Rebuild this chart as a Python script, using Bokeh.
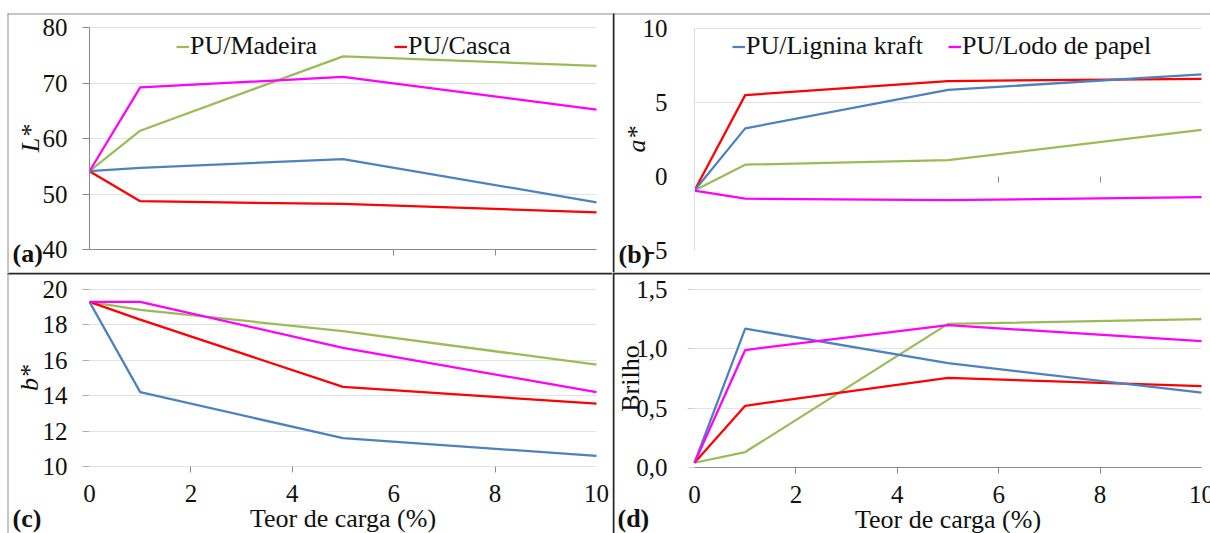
from bokeh.plotting import figure
from bokeh.models import (Range1d, FixedTicker, LinearAxis, Grid, Legend, ColumnDataSource,
                          LegendItem, Label, BoxAnnotation, CustomJSTickFormatter)
from bokeh.core.properties import value
from bokeh.layouts import column, row
from bokeh.embed import file_html
from bokeh.resources import INLINE

# Filler content (%)
carga = [0, 1, 5, 10]

series = ["PU/Madeira", "PU/Casca", "PU/Lignina kraft", "PU/Lodo de papel"]
colors = ["#9BBB59", "#FF0000", "#4F81BD", "#FF00FF"]

# L* (lightness)
L_madeira = [54.1, 61.4, 74.8, 73.1]
L_casca = [54.1, 48.7, 48.2, 46.7]
L_lignina = [54.1, 54.7, 56.3, 48.5]
L_lodo = [54.1, 69.2, 71.1, 65.2]

# a* (red/green)
a_madeira = [-0.95, 0.8, 1.1, 3.15]
a_casca = [-0.95, 5.5, 6.45, 6.6]
a_lignina = [-0.95, 3.25, 5.85, 6.9]
a_lodo = [-0.95, -1.5, -1.6, -1.4]

# b* (yellow/blue)
b_madeira = [19.3, 18.85, 17.65, 15.75]
b_casca = [19.3, 18.3, 14.5, 13.55]
b_lignina = [19.3, 14.2, 11.6, 10.6]
b_lodo = [19.3, 19.3, 16.7, 14.2]

# Gloss
brilho_madeira = [0.04, 0.13, 1.21, 1.25]
brilho_casca = [0.04, 0.52, 0.755, 0.685]
brilho_lignina = [0.04, 1.17, 0.88, 0.63]
brilho_lodo = [0.04, 0.99, 1.20, 1.065]

x_ticks = [0, 2, 4, 6, 8, 10]
x_tick_labels = ["0", "2", "4", "6", "8", "10"]
L_ticks = [40, 50, 60, 70, 80]
L_tick_labels = ["40", "50", "60", "70", "80"]
a_ticks = [-5, 0, 5, 10]
a_tick_labels = ["-5", "0", "5", "10"]
b_ticks = [10, 12, 14, 16, 18, 20]
b_tick_labels = ["10", "12", "14", "16", "18", "20"]
brilho_ticks = [0.0, 0.5, 1.0, 1.5]
brilho_tick_labels = ["0,0", "0,5", "1,0", "1,5"]

FONT = "Liberation Serif"
TICK_PX = "25px"
LABEL_PX = "26px"
GRID = "#e3e3e3"
AXIS_GREY = "#8a8a8a"
BORDER_GREY = "#8c8c8c"
DIVIDER = "#262626"
INK = "#111111"
TICK_OUT = 7


def blank(values):
    return CustomJSTickFormatter(args=dict(tick_values=values), code="return '';")


def panel(w, h, box, xr, yr):
    """Figure whose plotting frame fills the whole canvas; `box` gives the
    pixel rectangle (left, top, right, bottom) where xr x yr is drawn."""
    l, t, r, b = box
    sx = (r - l) / (xr[1] - xr[0])
    sy = (b - t) / (yr[1] - yr[0])
    x_range = Range1d(xr[0] - l / sx, xr[1] + (w - r) / sx)
    y_range = Range1d(yr[0] - (h - b) / sy, yr[1] + t / sy)
    p = figure(width=w, height=h, x_range=x_range, y_range=y_range,
               x_axis_type=None, y_axis_type=None,
               min_border=0, min_border_left=0, min_border_right=0,
               min_border_top=0, min_border_bottom=0,
               output_backend="svg", toolbar_location=None)
    p.outline_line_color = None
    p.background_fill_color = "white"
    p.border_fill_color = "white"
    return p


def y_axis(p, xr, yr, ticks, labels, line_color, tick_color, standoff,
           label, italic, title_offset):
    # tick marks and axis line
    p.add_layout(LinearAxis(ticker=FixedTicker(ticks=ticks), fixed_location=xr[0],
                            bounds=yr, formatter=blank(ticks),
                            axis_line_color=line_color,
                            major_tick_line_color=tick_color,
                            major_tick_in=0, major_tick_out=TICK_OUT,
                            minor_tick_line_color=None,
                            major_label_text_font_size="1px",
                            major_label_standoff=0), "left")
    # axis title
    p.add_layout(LinearAxis(ticker=FixedTicker(ticks=[]), fixed_location=xr[0],
                            bounds=yr, axis_line_color=None,
                            major_tick_line_color=None, major_tick_out=0,
                            major_tick_in=0, minor_tick_line_color=None,
                            axis_label=label,
                            axis_label_text_font=FONT,
                            axis_label_text_font_size=LABEL_PX,
                            axis_label_text_font_style="italic" if italic else "normal",
                            axis_label_text_color=INK,
                            axis_label_standoff=title_offset), "left")
    # tick labels
    src = ColumnDataSource(dict(x=[xr[0]] * len(ticks), y=ticks, t=labels))
    p.text(x="x", y="y", text="t", source=src, text_font=value(FONT),
           text_font_size=TICK_PX, text_color=INK, text_align="right",
           text_baseline="middle", x_offset=-(TICK_OUT + standoff))


def grid(p, xr, ticks):
    p.add_layout(Grid(dimension=1, ticker=FixedTicker(ticks=ticks), cross_bounds=xr,
                      grid_line_color=GRID, grid_line_width=1))


def tick_marks(p, xr, ticks, loc, line_color):
    p.add_layout(LinearAxis(ticker=FixedTicker(ticks=ticks), fixed_location=loc,
                            bounds=xr, formatter=blank(ticks),
                            axis_line_color=line_color,
                            major_tick_line_color=AXIS_GREY,
                            major_tick_in=0, major_tick_out=6,
                            minor_tick_line_color=None,
                            major_label_text_font_size="1px",
                            major_label_standoff=0), "below")


def x_labels(p, xr, yr):
    p.add_layout(LinearAxis(ticker=FixedTicker(ticks=[]), fixed_location=yr[0],
                            bounds=xr, axis_line_color=None,
                            major_tick_line_color=None, major_tick_out=0,
                            major_tick_in=0, minor_tick_line_color=None,
                            axis_label="Teor de carga (%)",
                            axis_label_text_font=FONT,
                            axis_label_text_font_size=LABEL_PX,
                            axis_label_text_font_style="normal",
                            axis_label_text_color=INK,
                            axis_label_standoff=37), "below")
    src = ColumnDataSource(dict(x=x_ticks, y=[yr[0]] * len(x_ticks), t=x_tick_labels))
    p.text(x="x", y="y", text="t", source=src, text_font=value(FONT),
           text_font_size=TICK_PX, text_color=INK, text_align="center",
           text_baseline="top", y_offset=TICK_OUT + 11)


def draw(p, values):
    return [p.line(carga, v, line_color=c, line_width=2.25)
            for v, c in zip(values, colors)]


def legend(p, renderers, names, loc, spacing):
    lg = Legend(items=[LegendItem(label=n, renderers=[r]) for n, r in zip(names, renderers)],
                location=loc, orientation="horizontal", spacing=spacing,
                padding=0, margin=0, glyph_width=13, glyph_height=29,
                label_standoff=1, label_height=29,
                label_text_font=FONT, label_text_font_size=LABEL_PX,
                label_text_color=INK,
                background_fill_alpha=0, border_line_color=None)
    p.add_layout(lg, "center")


def rule(p, left, right, top, bottom, color):
    p.add_layout(BoxAnnotation(left=left, right=right, top=top, bottom=bottom,
                               left_units="canvas", right_units="canvas",
                               top_units="canvas", bottom_units="canvas",
                               fill_color=color, fill_alpha=1.0,
                               line_color=None))


def tag(p, text, x, y):
    p.add_layout(Label(x=x, y=y, x_units="canvas", y_units="canvas", text=text,
                       text_font=FONT, text_font_size=LABEL_PX,
                       text_font_style="bold", text_color=INK,
                       text_baseline="alphabetic", text_align="left"))


XR = (0, 10)

# (a) L*
ya = (40, 80)
pa = panel(612, 272, (89, 27, 596, 249), XR, ya)
grid(pa, XR, [50, 60, 70, 80])
y_axis(pa, XR, ya, L_ticks, L_tick_labels, AXIS_GREY, AXIS_GREY, 15, "L*", True, 45)
tick_marks(pa, XR, [6, 8], ya[0], AXIS_GREY)
ra = draw(pa, [L_madeira, L_casca, L_lignina, L_lodo])
legend(pa, ra[:2], series[:2], (176, 211), 77)
rule(pa, 7, 612, 13, 14, BORDER_GREY)
rule(pa, 7, 8, 13, 272, BORDER_GREY)
tag(pa, "(a)", 12, 253)

# (b) a*
yb = (-5, 10)
pb = panel(598, 272, (82, 28, 589, 250), XR, yb)
grid(pb, XR, [5, 10])
y_axis(pb, XR, yb, a_ticks, a_tick_labels, "#dcdcdc", None, 20, "a*", True, 44)
tick_marks(pb, XR, [6, 8], 0, None)
rb = draw(pb, [a_madeira, a_casca, a_lignina, a_lodo])
legend(pb, rb[2:], series[2:], (120, 211), 25)
rule(pb, 0, 598, 13, 14, BORDER_GREY)
rule(pb, 0, 2, 13, 272, DIVIDER)
tag(pb, "(b)", 6, 254)

# (c) b*
yc = (10, 20)
pc = panel(612, 261, (89, 17, 596, 194), XR, yc)
grid(pc, XR, b_ticks)
y_axis(pc, XR, yc, b_ticks, b_tick_labels, None, "#b0b0b0", 15, "b*", True, 46)
tick_marks(pc, XR, [2, 4, 8], yc[0], None)
x_labels(pc, XR, yc)
draw(pc, [b_madeira, b_casca, b_lignina, b_lodo])
rule(pc, 7, 612, 0, 2, DIVIDER)
rule(pc, 7, 8, 0, 261, BORDER_GREY)
tag(pc, "(c)", 12, 246)

# (d) Brilho
yd = (0, 1.5)
pd_ = panel(598, 261, (82, 17, 589, 195), XR, yd)
grid(pd_, XR, [0.5, 1.0, 1.5])
y_axis(pd_, XR, yd, brilho_ticks, brilho_tick_labels, None, "#d0d0d0", 20, "Brilho",
       False, 50)
tick_marks(pd_, XR, [2, 4, 6, 8], yd[0], AXIS_GREY)
x_labels(pd_, XR, yd)
draw(pd_, [brilho_madeira, brilho_casca, brilho_lignina, brilho_lodo])
rule(pd_, 0, 598, 0, 2, DIVIDER)
rule(pd_, 0, 2, 0, 261, DIVIDER)
tag(pd_, "(d)", 5, 246)

layout = column(row(pa, pb), row(pc, pd_))

open("out.html", "w").write(file_html(layout, INLINE))
